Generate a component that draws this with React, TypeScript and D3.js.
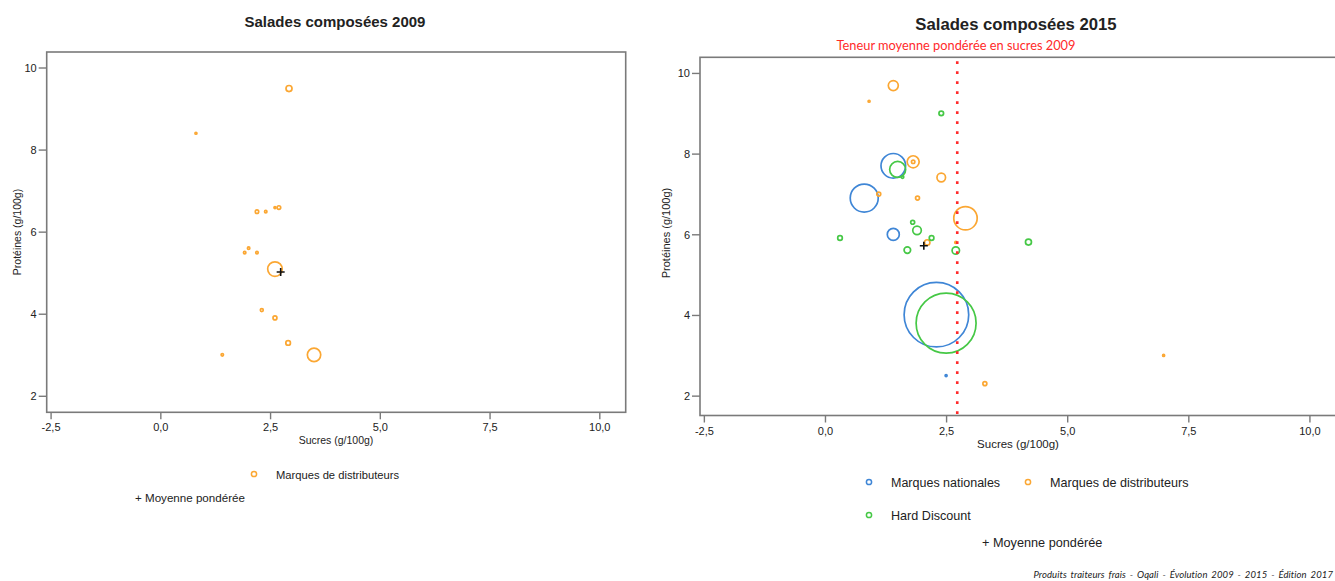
import React from "react";
import * as d3 from "d3";

// ---- Data ----
type Pt = { x: number; y: number; w: number };

// 2009 – Marques de distributeurs (sucres, protéines, poids)
const mdd2009: Pt[] = [
  { x: 2.92, y: 9.5, w: 0.37 },
  { x: 0.8, y: 8.41, w: 0.04 },
  { x: 2.19, y: 6.5, w: 0.12 },
  { x: 2.39, y: 6.5, w: 0.06 },
  { x: 2.6, y: 6.6, w: 0.04 },
  { x: 2.69, y: 6.6, w: 0.13 },
  { x: 2.0, y: 5.61, w: 0.06 },
  { x: 1.91, y: 5.5, w: 0.06 },
  { x: 2.19, y: 5.5, w: 0.06 },
  { x: 2.6, y: 5.1, w: 2.17 },
  { x: 2.3, y: 4.1, w: 0.09 },
  { x: 2.6, y: 3.91, w: 0.16 },
  { x: 2.9, y: 3.3, w: 0.22 },
  { x: 3.49, y: 3.01, w: 1.83 },
  { x: 1.4, y: 3.01, w: 0.06 },
];
const mean2009 = { x: 2.73, y: 5.03 };

// 2015
const mn2015: Pt[] = [
  { x: 1.4, y: 7.71, w: 6.18 },
  { x: 0.8, y: 6.91, w: 8.0 },
  { x: 1.4, y: 6.01, w: 1.47 },
  { x: 2.29, y: 4.02, w: 42.6 },
  { x: 2.49, y: 2.51, w: 0.04 },
];
const mdd2015: Pt[] = [
  { x: 1.4, y: 9.7, w: 1.02 },
  { x: 0.9, y: 9.31, w: 0.04 },
  { x: 1.81, y: 7.81, w: 1.47 },
  { x: 1.81, y: 7.81, w: 0.12 },
  { x: 2.39, y: 7.42, w: 0.75 },
  { x: 1.1, y: 7.01, w: 0.16 },
  { x: 1.9, y: 6.91, w: 0.16 },
  { x: 2.89, y: 6.41, w: 5.59 },
  { x: 2.1, y: 5.81, w: 0.3 },
  { x: 2.69, y: 5.81, w: 0.04 },
  { x: 3.29, y: 2.31, w: 0.16 },
  { x: 6.98, y: 3.01, w: 0.04 },
];
const hd2015: Pt[] = [
  { x: 2.39, y: 9.01, w: 0.22 },
  { x: 1.49, y: 7.62, w: 2.61 },
  { x: 1.59, y: 7.43, w: 0.07 },
  { x: 1.8, y: 6.31, w: 0.16 },
  { x: 1.89, y: 6.11, w: 0.75 },
  { x: 0.3, y: 5.92, w: 0.22 },
  { x: 2.19, y: 5.92, w: 0.22 },
  { x: 1.69, y: 5.62, w: 0.44 },
  { x: 2.69, y: 5.61, w: 0.56 },
  { x: 4.19, y: 5.82, w: 0.37 },
  { x: 2.49, y: 3.81, w: 36.7 },
];
const mean2015 = { x: 2.03, y: 5.73 };
const refSugar2009 = 2.72;

const xTicks = [-2.5, 0, 2.5, 5, 7.5, 10];
const yTicks = [2, 4, 6, 8, 10];

const BLUE = "#3f86d6";
const ORANGE = "#fba733";
const GREEN = "#46c846";
const RED = "#ff2a2a";
const FRAME = "#7a7a7a";
const TXT = "#222";

const rScale = d3.scaleSqrt().domain([0, 50]).range([0, 35]);
const fmt = (v: number) => v.toFixed(1).replace(".", ",");
const FONT = "'Liberation Sans', Arial, sans-serif";

type Series = { data: Pt[]; color: string };

function Panel(props: {
  x0: number; x1: number; y0: number; y1: number;
  xDom: [number, number]; yDom: [number, number];
  series: Series[]; mean: { x: number; y: number };
  refLine?: number;
}) {
  const { x0, x1, y0, y1, xDom, yDom, series, mean, refLine } = props;
  const xs = d3.scaleLinear().domain(xDom).range([x0, x1]);
  const ys = d3.scaleLinear().domain(yDom).range([y1, y0]);
  const id = "clip" + Math.round(x0);
  return (
    <g>
      <defs>
        <clipPath id={id}>
          <rect x={x0} y={y0} width={x1 - x0} height={y1 - y0} />
        </clipPath>
      </defs>
      <rect x={x0} y={y0} width={x1 - x0} height={y1 - y0} fill="white" stroke={FRAME} strokeWidth={1.6} />
      {xTicks.map((t) => (
        <g key={"x" + t}>
          <line x1={xs(t)} x2={xs(t)} y1={y1} y2={y1 + 7} stroke={FRAME} strokeWidth={1.4} />
          <text x={xs(t)} y={y1 + 19} textAnchor="middle" fontSize={11} fill={TXT} fontFamily={FONT}>
            {fmt(t)}
          </text>
        </g>
      ))}
      {yTicks.map((t) => (
        <g key={"y" + t}>
          <line x1={x0 - 8} x2={x0} y1={ys(t)} y2={ys(t)} stroke={FRAME} strokeWidth={1.4} />
          <text x={x0 - 10} y={ys(t) + 4} textAnchor="end" fontSize={11} fill={TXT} fontFamily={FONT}>
            {t}
          </text>
        </g>
      ))}
      <g clipPath={`url(#${id})`}>
        {series.map((s, si) =>
          s.data.map((p, i) => (
            <circle
              key={si + "-" + i}
              cx={xs(p.x)}
              cy={ys(p.y)}
              r={Math.max(1, rScale(p.w))}
              fill="none"
              stroke={s.color}
              strokeWidth={1.7}
            />
          ))
        )}
        <path
          d={`M${xs(mean.x) - 4},${ys(mean.y)}h8M${xs(mean.x)},${ys(mean.y) - 4}v8`}
          stroke="#111"
          strokeWidth={1.6}
        />
      </g>
      {refLine !== undefined && (
        <line
          x1={xs(refLine)} x2={xs(refLine)} y1={y0 + 4} y2={y1 + 1}
          stroke={RED} strokeWidth={2.6} strokeDasharray="2.6 7.4"
        />
      )}
    </g>
  );
}

function LegendItem(p: { x: number; y: number; color: string; label: string; fs: number }) {
  return (
    <g>
      <circle cx={p.x} cy={p.y} r={2.6} fill="none" stroke={p.color} strokeWidth={1.5} />
      <text x={p.x + 22} y={p.y + 4.5} fontSize={p.fs} fill={TXT} fontFamily={FONT}>
        {p.label}
      </text>
    </g>
  );
}

export default function App() {
  return (
    <div style={{ position: "absolute", left: 0, top: 0 }}>
      <svg width={1335} height={581} style={{ display: "block", background: "white" }}>
        {/* Left panel */}
        <text x={335} y={27} textAnchor="middle" fontSize={15} fontWeight="bold" fill={TXT} fontFamily={FONT}>
          Salades composées 2009
        </text>
        <Panel
          x0={46.7} x1={625.7} y0={52} y1={412.3}
          xDom={[-2.6, 10.59]} yDom={[1.61, 10.39]}
          series={[{ data: mdd2009, color: ORANGE }]}
          mean={mean2009}
        />
        <text x={336} y={444} textAnchor="middle" fontSize={10.5} fill={TXT} fontFamily={FONT}>
          Sucres (g/100g)
        </text>
        <text transform="translate(21,232) rotate(-90)" textAnchor="middle" fontSize={10.5} fill={TXT} fontFamily={FONT}>
          Protéines (g/100g)
        </text>
        <LegendItem x={254} y={474} color={ORANGE} label="Marques de distributeurs" fs={11.2} />
        <text x={135} y={502} fontSize={11.6} fill={TXT} fontFamily={FONT}>+ Moyenne pondérée</text>

        {/* Right panel */}
        <text x={1016} y={30} textAnchor="middle" fontSize={16.7} fontWeight="bold" fill={TXT} fontFamily={FONT}>
          Salades composées 2015
        </text>
        <text x={956} y={50} textAnchor="middle" fontSize={12.8} fill={RED} fontFamily="Lato, 'Open Sans', sans-serif">
          Teneur moyenne pondérée en sucres 2009
        </text>
        <Panel
          x0={700} x1={1339} y0={57.3} y1={415.5}
          xDom={[-2.59, 10.6]} yDom={[1.52, 10.4]}
          series={[
            { data: mn2015, color: BLUE },
            { data: mdd2015, color: ORANGE },
            { data: hd2015, color: GREEN },
          ]}
          mean={mean2015} refLine={refSugar2009}
        />
        <text x={1018} y={448} textAnchor="middle" fontSize={11.5} fill={TXT} fontFamily={FONT}>
          Sucres (g/100g)
        </text>
        <text transform="translate(670,233) rotate(-90)" textAnchor="middle" fontSize={11} fill={TXT} fontFamily={FONT}>
          Protéines (g/100g)
        </text>
        <LegendItem x={869} y={482} color={BLUE} label="Marques nationales" fs={12.5} />
        <LegendItem x={1028} y={482} color={ORANGE} label="Marques de distributeurs" fs={12.6} />
        <LegendItem x={869} y={515} color={GREEN} label="Hard Discount" fs={12.6} />
        <text x={982} y={547} fontSize={12.7} fill={TXT} fontFamily={FONT}>+ Moyenne pondérée</text>

        <text x={1333} y={578} textAnchor="end" fontSize={9.5} fontStyle="italic" fill={TXT} wordSpacing={1.5} letterSpacing={0.1} fontFamily="Lato, 'Open Sans', sans-serif">
          Produits traiteurs frais - Oqali - Évolution 2009 - 2015 - Édition 2017
        </text>
      </svg>
    </div>
  );
}
